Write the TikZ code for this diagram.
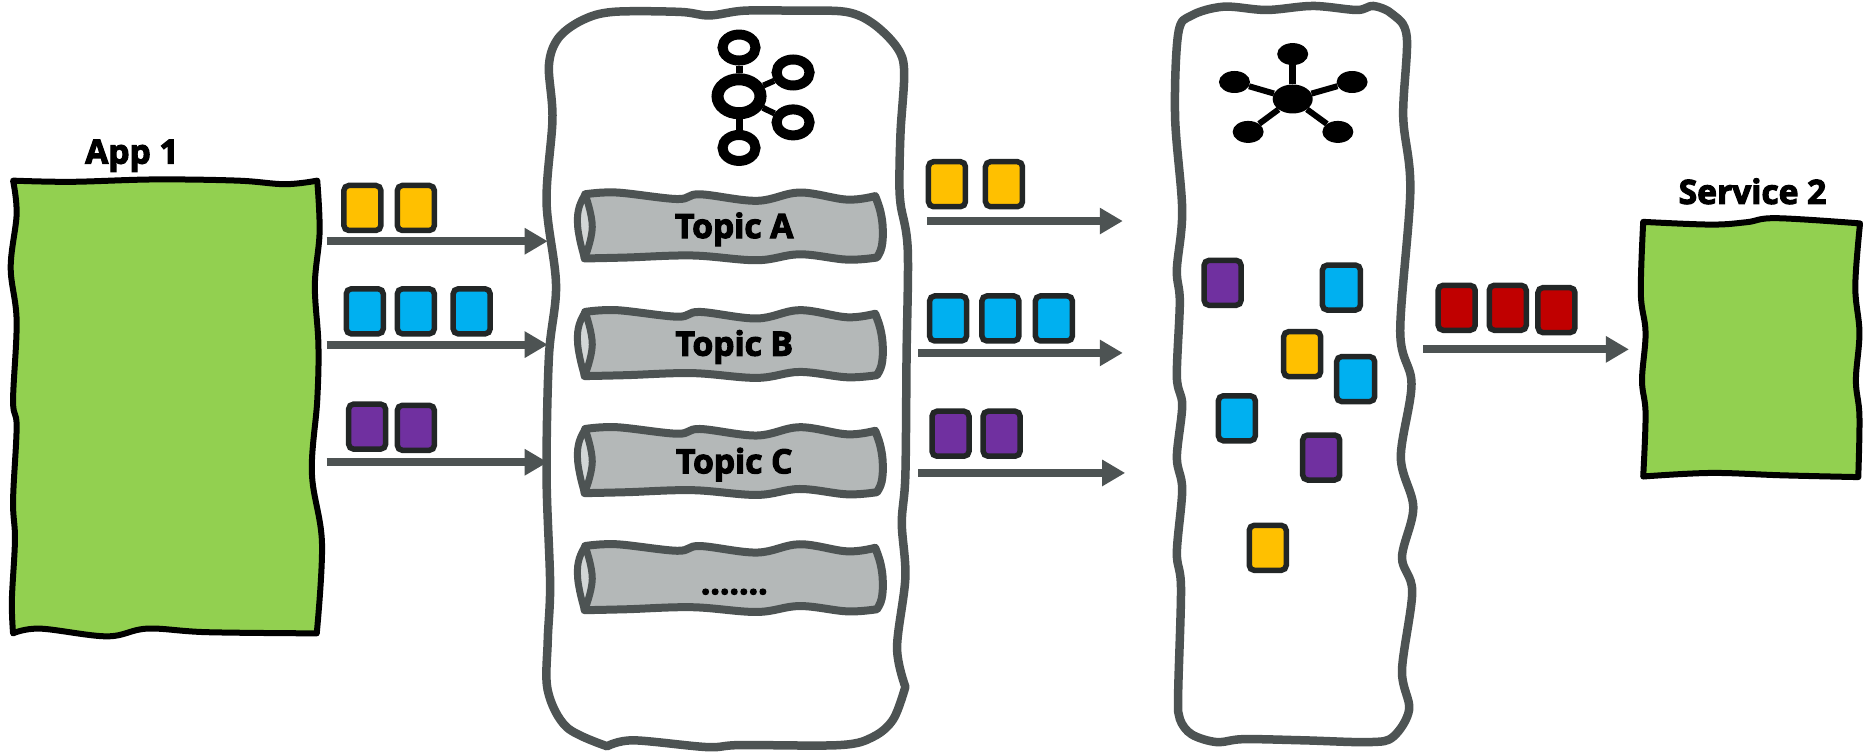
\documentclass[tikz,border=0pt]{standalone}
\usepackage{fontspec}
\setmainfont{Open Sans}[BoldFeatures={FakeBold=3.4},Ligatures=TeX]
\usetikzlibrary{arrows.meta,shapes.geometric}
\definecolor{slate}{HTML}{4D5353}
\definecolor{tubefill}{HTML}{B4B8B8}
\definecolor{lensfill}{HTML}{D2D6D6}
\definecolor{appgreen}{HTML}{92D050}
\definecolor{msgy}{HTML}{FFC000}
\definecolor{msgb}{HTML}{00B0F0}
\definecolor{msgp}{HTML}{7030A0}
\definecolor{msgr}{HTML}{C00000}
\definecolor{msgline}{HTML}{222626}
\tikzset{
  msgbox/.style={draw=msgline,line width=5.5pt,rounded corners=5pt,minimum width=37pt,minimum height=45pt,inner sep=0pt,fill=#1},
  flow/.style={draw=slate,line width=8pt,-{Triangle[length=23pt,width=25pt]}},
  panel/.style={draw=slate,line width=8.5pt,fill=white,line join=round},
  appbox/.style={draw=black,line width=6pt,fill=appgreen,line join=round},
  tube/.style={draw=slate,line width=8pt,fill=tubefill,line join=round},
  lens/.style={draw=slate,line width=7pt,fill=lensfill,line join=round},
  label/.style={font=\fontsize{33.5}{40}\selectfont\bfseries,text=black,inner sep=0pt},
  kring/.style={ellipse,draw=black,line width=#1,fill=white,inner sep=0pt},
  kspoke/.style={draw=black,line width=7pt},
  sdot/.style={ellipse,fill=black,inner sep=0pt},
  sspoke/.style={draw=black,line width=6pt}
}
\newcommand{\tubeat}[1]{%
  \draw[tube] plot[smooth,tension=.6] coordinates {(492.5,#1-26.5)(519,#1-28)(570,#1-22.5)(589,#1-26.5)(637,#1-21)(673,#1-28)(713,#1-22)(736.6,#1-25)}
    -- plot[smooth,tension=.7] coordinates {(736.6,#1-25)(741,#1-12)(743,#1+3)(742,#1+18)(738,#1+26.7)}
    -- plot[smooth,tension=.6] coordinates {(738,#1+26.7)(713,#1+28.5)(673,#1+24)(637,#1+29)(583,#1+25)(527.6,#1+26.7)(492,#1+27.5)}
    -- cycle;
  \draw[lens] plot[smooth,tension=.7] coordinates {(492.5,#1-26.5)(487.5,#1-16)(486,#1-3)(488,#1+12)(492,#1+27.5)}
    -- plot[smooth,tension=.7] coordinates {(492,#1+27.5)(498.5,#1+1)(492.5,#1-26.5)} -- cycle;
}
\begin{document}
\begin{tikzpicture}[x=1.18814pt,y=-1.18829pt]
\useasboundingbox (0,0) rectangle (1568,632);

% App 1
\draw[appbox] plot[smooth,tension=.6] coordinates {(11,152)(60,153)(130,151)(200,152)(240,155)(267,152)}
  -- plot[smooth,tension=.6] coordinates {(267,152)(269,195)(265,240)(268,290)(267,337)(262.5,398)(271,457)(266.6,533)}
  -- plot[smooth,tension=.6] coordinates {(266.6,533)(174,532)(124,529)(90,535.5)(33.7,529)(11,533)}
  -- plot[smooth,tension=.6] coordinates {(11,533)(10,505)(12.6,454)(11,421)(14,359)(11,337)(14,270)(9,225)(14,180)(11,152)} -- cycle;
\node[label] (app) at (111,131) {App 1};

% Kafka panel
\draw[panel] plot[smooth,tension=.55] coordinates {(511,628)(477,612)(461,581)(461,539)(463,491)(460,400)(462,300)(468,240)(460,170)(465,100)(462,55)(470,32)(490,17)(516,10)(572,10)(597,13)(626,9)(670,9)(712,10)(735,20)(755,40)(761,60)(758,110)(757,150)(758,172)(764,210)(763,300)(762,400)(759,440)(762,486)(755,545)(762,578)}
  -- plot[smooth,tension=.55] coordinates {(762,578)(752,605)(735,620)(707,627)(623,627)(595,628.7)(533,623)(511,628)} -- cycle;

% Kafka icon
\node[kring=12pt,minimum width=43pt,minimum height=34pt] (khub) at (622,81) {};
\node[kring=10pt,minimum width=33pt,minimum height=26pt] (ktop) at (622,40) {};
\node[kring=10pt,minimum width=33pt,minimum height=26pt] (kbot) at (622,124.5) {};
\node[kring=10pt,minimum width=33pt,minimum height=26pt] (kup) at (667.5,61) {};
\node[kring=10pt,minimum width=33pt,minimum height=26pt] (kdn) at (667.5,103) {};
\draw[kspoke] (khub) -- (ktop);
\draw[kspoke] (khub) -- (kbot);
\draw[kspoke,line width=6pt] (khub) -- (kup);
\draw[kspoke,line width=6pt] (khub) -- (kdn);

% Topics
\tubeat{190}
\tubeat{289}
\tubeat{387.5}
\tubeat{486}
\node[label] (ta) at (618,193) {Topic A};
\node[label] (tb) at (618,292) {Topic B};
\node[label] (tc) at (618,391) {Topic C};
\node[label] (td) at (618,498) {.......};

% Right panel
\draw[panel] plot[smooth cycle,tension=.55] coordinates {(991.7,28)(1003,13)(1030,5.6)(1066,8.4)(1105,5)(1142,8.4)(1156,5)(1172,12)(1184,31)(1181,98)(1187,160)(1178.5,279)(1188,323)(1179,385)(1189.5,427)(1180,469)(1188.6,498)(1180,564)(1186,597)(1172.6,620)(1153,624.5)(1097,623)(1046.6,622)(1024,624.5)(1003,618)(993,605)(991.6,584)(994,495)(990.5,465)(995,412)(990.5,385)(995,341)(990.5,317)(993,254)(990.5,227)(995,177)(989,98)};

% Star icon
\node[sdot,minimum width=40pt,minimum height=29pt] (shub) at (1088,83.3) {};
\node[sdot,minimum width=31pt,minimum height=22pt] (stop) at (1088,45.5) {};
\node[sdot,minimum width=31pt,minimum height=22pt] (sl) at (1039,69) {};
\node[sdot,minimum width=31pt,minimum height=22pt] (sr) at (1138,69) {};
\node[sdot,minimum width=31pt,minimum height=22pt] (sll) at (1050.5,111) {};
\node[sdot,minimum width=31pt,minimum height=22pt] (slr) at (1126,111) {};
\draw[sspoke,line width=7pt] (shub) -- (stop);
\draw[sspoke] (shub) -- (sl);
\draw[sspoke] (shub) -- (sr);
\draw[sspoke] (shub) -- (sll);
\draw[sspoke] (shub) -- (slr);

% Service 2
\draw[appbox] plot[smooth,tension=.6] coordinates {(1383,186.7)(1440,189)(1470,187)(1495,183.6)(1565.5,188)}
  -- plot[smooth,tension=.6] coordinates {(1565.5,188)(1561.5,241)(1565,280)(1562,320)(1565,350)(1564,401.5)}
  -- plot[smooth,tension=.6] coordinates {(1564,401.5)(1500,400)(1440,398)(1383,401)}
  -- plot[smooth,tension=.6] coordinates {(1383,401)(1385,348)(1382,320)(1385,280)(1381,247)(1383,186.7)} -- cycle;
\node[label] (svc) at (1475,161) {Service 2};

% Messages, left
\node[msgbox=msgy] (ly1) at (305,175) {};
\node[msgbox=msgy] (ly2) at (350,175) {};
\node[msgbox=msgb] (lb1) at (307,262) {};
\node[msgbox=msgb] (lb2) at (350,262) {};
\node[msgbox=msgb] (lb3) at (397,262) {};
\node[msgbox=msgp] (lp1) at (309,359) {};
\node[msgbox=msgp] (lp2) at (350,360) {};

% Messages, middle
\node[msgbox=msgy] (my1) at (797,155) {};
\node[msgbox=msgy] (my2) at (845,155) {};
\node[msgbox=msgb] (mb1) at (798,268) {};
\node[msgbox=msgb] (mb2) at (842,268) {};
\node[msgbox=msgb] (mb3) at (887,268) {};
\node[msgbox=msgp] (mp1) at (800,365) {};
\node[msgbox=msgp] (mp2) at (843,365) {};

% Messages, in panel
\node[msgbox=msgp] (pp1) at (1029,238) {};
\node[msgbox=msgb,minimum width=38pt] (pb1) at (1129,242) {};
\node[msgbox=msgy] (py1) at (1096,298) {};
\node[msgbox=msgb,minimum width=38pt] (pb2) at (1141,319) {};
\node[msgbox=msgb] (pb3) at (1041,352) {};
\node[msgbox=msgp] (pp2) at (1112,385) {};
\node[msgbox=msgy] (py2) at (1067,461) {};

% Messages, red
\node[msgbox=msgr] (r1) at (1226,259) {};
\node[msgbox=msgr] (r2) at (1269,259) {};
\node[msgbox=msgr] (r3) at (1310,261) {};

% Flow arrows
\coordinate (a1s) at (275,203); \coordinate (a1e) at (461,203);
\coordinate (a2s) at (275,290); \coordinate (a2e) at (461,290);
\coordinate (a3s) at (275,389); \coordinate (a3e) at (461,389);
\coordinate (b1s) at (780,186); \coordinate (b1e) at (945,186);
\coordinate (b2s) at (773,297); \coordinate (b2e) at (945,297);
\coordinate (b3s) at (773,398); \coordinate (b3e) at (947,398);
\coordinate (c1s) at (1198,294); \coordinate (c1e) at (1371,294);
\draw[flow] (a1s) -- (a1e);
\draw[flow] (a2s) -- (a2e);
\draw[flow] (a3s) -- (a3e);
\draw[flow] (b1s) -- (b1e);
\draw[flow] (b2s) -- (b2e);
\draw[flow] (b3s) -- (b3e);
\draw[flow] (c1s) -- (c1e);
\end{tikzpicture}
\end{document}
